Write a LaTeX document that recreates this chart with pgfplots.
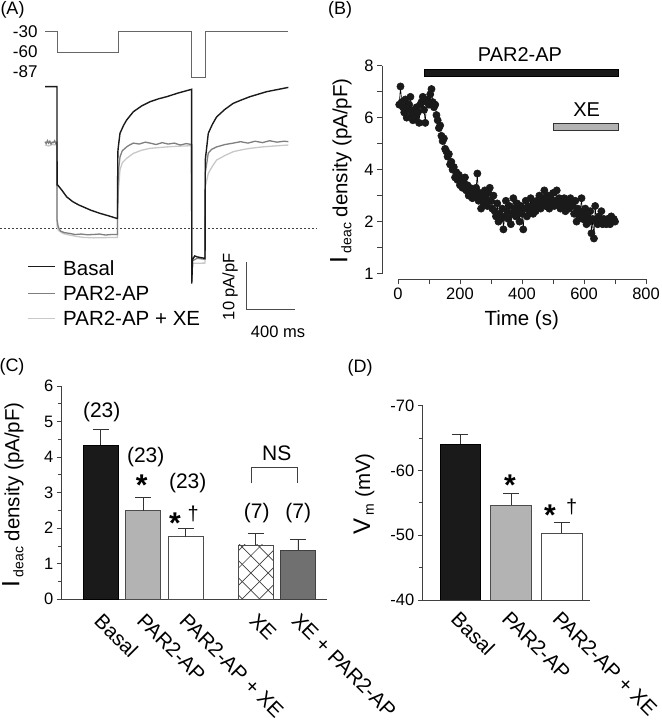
\documentclass[border=0pt]{standalone}
\usepackage{pgfplots}
\pgfplotsset{compat=1.18}
\usepackage{fontspec}
\setmainfont{Liberation Sans}
\usetikzlibrary{patterns}
\pgfdeclarepatternformonly{bigcross}{\pgfpoint{-1bp}{-1bp}}{\pgfpoint{18.3bp}{18.3bp}}{\pgfpoint{17.3bp}{17.3bp}}{%
  \pgfsetlinewidth{0.7bp}%
  \pgfpathmoveto{\pgfpoint{0bp}{0bp}}\pgfpathlineto{\pgfpoint{17.3bp}{17.3bp}}%
  \pgfpathmoveto{\pgfpoint{0bp}{17.3bp}}\pgfpathlineto{\pgfpoint{17.3bp}{0bp}}%
  \pgfusepath{stroke}}
\definecolor{axc}{HTML}{404040}
\definecolor{basalc}{HTML}{1A1A1A}
\definecolor{parc}{HTML}{7F7F7F}
\definecolor{xec}{HTML}{C8C8C8}
\definecolor{barlg}{HTML}{B3B3B3}
\definecolor{bardg}{HTML}{707070}
\newcommand\lab{\fontsize{20.5bp}{22bp}\selectfont}
\newcommand\tck{\fontsize{16.5bp}{18bp}\selectfont}
\newcommand\ann{\fontsize{21bp}{22bp}\selectfont}
\newcommand\sigstar{\fontsize{30bp}{30bp}\selectfont\bfseries *}
\pgfplotsset{panel/.style={scale only axis, tick align=outside,
  /pgf/number format/assume math mode=true,
  ticklabel style={font=\tck, text=black},
  tick style={axc, line width=0.8bp},
  major tick length=5bp, minor tick length=3.5bp}}
\begin{document}
\begin{tikzpicture}[x=1bp,y=1bp]

% ---------------- Panel A ----------------
\begin{axis}[at={(0bp,380bp)}, anchor=south west, scale only axis, hide axis, clip=false,
  width=320bp, height=320bp, xmin=-372.6, xmax=2277, ymin=-23.45, ymax=43.76]
\addplot[color=black!60, line width=1bp] coordinates {(0,41.3) (100,41.3) (100,36.9) (607,36.9) (607,41.3) (1215,41.3) (1215,31.72) (1333,31.72) (1333,41.3) (2015,41.3)};
\addplot[color=black!75, line width=0.7bp, dash pattern=on 1.5bp off 2.5bp] coordinates {(-372,0) (2250,0)};
\addplot[color=xec, line width=1.3bp] coordinates {(0,17.5) (30,17.3) (60,17.6) (99,17.5) (100,0.5) (110,-0.4) (150,-1.1) (200,-1.4) (260,-1.7) (317,-1.9) (400,-2.0) (500,-1.95) (600,-1.9)
 (602,5.95) (621,12.25) (640,13.8) (676,14.7) (732,15.75) (800,16.4) (870,16.8) (1008,17.1) (1100,17.25) (1214,17.35)
 (1215,-10.5) (1222,-7.35) (1325,-7.3)
 (1327,8.74) (1352,11.55) (1385,13.0) (1421,14.35) (1490,15.3) (1559,16.1) (1630,16.5) (1697,16.8) (1800,17.1) (1900,17.3) (2015,17.5)};
\addplot[color=parc, line width=1.3bp] coordinates {(0,18.2) (10,17.8) (20,18.4) (30,17.9) (40,18.3) (50,17.7) (60,18.1) (70,18.0) (80,18.4) (90,17.8) (99,18.0)
 (100,1.74) (108,0.5) (115,0) (130,-0.6) (160,-0.9) (200,-1.05) (250,-1.3) (300,-1.2) (350,-1.35) (400,-1.3) (450,-1.2) (500,-1.4) (550,-1.3) (600,-1.3)
 (602,8.7) (610,12.5) (621,15.0) (640,16.3) (676,17.1) (700,17.5) (732,17.9) (780,17.7) (830,18.1) (870,17.9) (920,17.6) (970,18.0) (1020,17.7) (1070,17.9) (1120,17.5) (1170,17.8) (1214,17.6)
 (1215,-11) (1222,-6.8) (1260,-6.3) (1325,-6.5)
 (1327,11.6) (1352,15.8) (1380,16.6) (1421,17.1) (1490,17.6) (1559,17.9) (1620,18.2) (1680,17.9) (1740,18.3) (1800,18.0) (1860,18.4) (1920,18.1) (1980,18.3) (2015,18.2)};
\addplot[color=basalc, line width=1.4bp] coordinates {(0,29.75) (99,29.75) (100,9.1) (105,9.1) (140,8.0) (180,6.6) (230,5.6) (280,4.9) (317,4.5) (380,3.8) (455,3.15) (530,2.6) (593,2.1) (600,2.1)
 (603,16.0) (607,17.1) (621,19.96) (650,21.6) (676,22.75) (732,24.5) (800,25.7) (870,26.6) (940,27.2) (1008,27.65) (1100,28.4) (1214,29.2)
 (1215,-11.6) (1222,-6.5) (1240,-5.8) (1260,-6.0) (1300,-6.2) (1325,-6.3)
 (1327,14.35) (1352,19.96) (1385,21.8) (1421,23.4) (1490,25.0) (1559,26.26) (1630,27.0) (1697,27.65) (1835,28.7) (2015,29.6)};
\addplot[color=basalc, line width=1.4bp] coordinates {(-138,-8.07) (83,-8.07)};
\addplot[color=parc, line width=1.4bp] coordinates {(-138,-13.66) (83,-13.66)};
\addplot[color=xec, line width=1.4bp] coordinates {(-138,-18.9) (83,-18.9)};
\addplot[color=black!70, line width=0.9bp] coordinates {(1670,-7.0) (1670,-17.0) (2070,-17.0)};
\end{axis}
\node[font=\fontsize{18bp}{20bp}\selectfont] at (12.5,710) {(A)};
\node[anchor=east, font=\fontsize{17bp}{18bp}\selectfont] at (41,688.3) {-30};
\node[anchor=east, font=\fontsize{17bp}{18bp}\selectfont] at (41,668.3) {-60};
\node[anchor=east, font=\fontsize{17bp}{18bp}\selectfont] at (41,648.3) {-87};
\node[anchor=west, font=\lab, inner sep=0pt] at (63,451.7) {Basal};
\node[anchor=west, font=\lab, inner sep=0pt] at (63,426.7) {PAR2-AP};
\node[anchor=west, font=\lab, inner sep=0pt] at (63,401.7) {PAR2-AP + XE};
\node[rotate=90, font=\fontsize{16.5bp}{18bp}\selectfont] at (230,433.3) {10 pA/pF};
\node[font=\fontsize{16.5bp}{18bp}\selectfont] at (278,388.3) {400 ms};

% ---------------- Panel B ----------------
\begin{axis}[panel, at={(382bp,440.7bp)}, anchor=south west, clip=false,
  width=264bp, height=213.6bp, xmin=-51.6, xmax=800, ymin=-0.22, ymax=8,
  axis x line*=bottom, axis y line*=left, axis line style={draw=none},
  xtick={0,100,...,800}, xticklabels={0,,200,,400,,600,,800},
  ytick={0,1,...,8}, yticklabels={1,,2,,4,,6,,8}]
\draw[axc, line width=0.8bp] (axis cs:-51.6,0) -- (axis cs:-51.6,8);
\draw[axc, line width=0.8bp] (axis cs:0,-0.22) -- (axis cs:800,-0.22);
\addplot[fill=basalc, draw=black, line width=0.6bp] coordinates {(84,7.58) (712,7.58) (712,7.86) (84,7.86) (84,7.58)};
\addplot[fill=barlg, draw=black!80, line width=0.8bp] coordinates {(500,5.52) (712,5.52) (712,5.76) (500,5.76) (500,5.52)};
\addplot[color=black, line width=0.6bp, mark=*, mark size=3.6bp, mark options={fill=basalc, draw=basalc}] coordinates {
(4,6.5) (8,7.2) (12,6.6) (16,6.4) (20,6.2) (24,6.7) (28,6.0) (32,6.3) (36,6.5) (40,6.8) (44,6.1) (48,5.9) (52,6.3) (56,6.0) (60,6.4) (64,6.2) (68,5.8) (72,6.5) (76,6.6) (80,6.8) (84,6.3) (88,5.8) (92,6.6) (96,6.7) (100,6.5) (104,6.9) (108,7.1)
(112,6.6) (116,6.4) (120,6.5) (124,6.1) (128,5.9) (132,5.6) (136,5.7) (140,5.3) (144,5.1) (148,5.2) (152,4.8) (156,4.7) (160,4.5) (164,4.6) (168,4.2) (172,4.3) (176,4.0) (180,4.1) (184,3.7) (188,3.9) (192,3.6) (196,3.8) (200,3.4) (204,3.6) (208,3.3) (212,3.5) (216,3.7) (220,3.2) (224,3.4) (228,3.0) (232,3.3) (236,3.1) (240,2.9) (244,3.2) (248,3.0) (252,3.3)
(256,3.85) (260,2.8) (264,3.1) (268,2.5) (272,3.0) (276,2.7) (280,3.2) (284,2.9) (288,2.6) (292,3.1) (296,3.3) (300,2.8) (304,2.5) (308,3.0) (312,2.4) (316,2.2) (320,2.7) (324,2.0) (328,2.3) (332,2.1) (336,2.5) (340,1.7) (344,2.2) (348,2.8) (352,2.4) (356,2.1) (360,2.6) (364,1.9) (368,2.3) (372,2.9) (376,2.5) (380,2.2) (384,2.7) (388,2.4) (392,2.0) (396,2.6) (400,2.3) (404,1.7) (408,2.5) (412,2.8) (416,2.2) (420,2.6) (424,2.4) (428,2.9) (432,2.5) (436,2.3) (440,2.7) (444,2.4) (448,2.8) (452,2.6) (456,3.0) (460,2.5) (464,2.7) (468,2.9)
(472,3.2) (476,2.6) (480,2.8) (484,3.0) (488,2.5) (492,2.9) (496,2.7) (500,3.1) (504,2.6) (508,2.8) (512,3.2) (516,2.7) (520,2.9) (524,2.5) (528,2.8) (532,2.6) (536,2.9) (540,2.4) (544,2.7) (548,2.8) (552,2.5) (556,2.9) (560,2.6)
(564,2.7) (568,2.3) (572,2.8) (576,2.0) (580,2.5) (584,2.2) (588,2.4) (592,2.9) (596,2.1) (600,2.3) (604,2.5) (608,1.9) (612,2.2) (616,2.0) (620,2.4) (624,1.55) (628,2.1) (632,1.35) (636,2.6) (640,2.0) (644,1.9) (648,2.2) (652,2.0) (656,2.4) (660,1.9) (664,2.1) (668,2.0) (672,1.9) (676,2.1) (680,2.0) (684,1.9) (688,2.2) (692,2.0) (696,2.1) (700,2.0)};
\end{axis}
\node[font=\fontsize{18bp}{20bp}\selectfont] at (340,710) {(B)};
\node[font=\fontsize{20bp}{22bp}\selectfont] at (520,665) {PAR2-AP};
\node[font=\fontsize{20bp}{22bp}\selectfont] at (586.7,610) {XE};
\node[font=\lab] at (521.7,400) {Time (s)};
\node[rotate=90, font=\lab] at (341,549) {{\fontsize{25bp}{25bp}\selectfont I}\,\raisebox{-0.35ex}{\fontsize{14bp}{14bp}\selectfont deac} density (pA/pF)};

% ---------------- Panel C ----------------
\begin{axis}[panel, at={(61.7bp,120.7bp)}, anchor=south west, clip=false,
  width=265bp, height=213.3bp, xmin=-0.922, xmax=5.328, ymin=0, ymax=6,
  ybar, bar width=35bp,
  axis x line*=bottom, axis y line*=left, axis line style={-, axc, line width=0.8bp},
  ytick={0,1,...,6}, minor ytick={0.5,1.5,...,5.5},
  xtick={0,1,2,3.65,4.65}, xticklabels={Basal,PAR2-AP,PAR2-AP + XE,XE,XE + PAR2-AP},
  x tick style={draw=none},
  xticklabel style={rotate=-45, anchor=north west, font=\lab, xshift=4bp},
  error bars/y dir=plus, error bars/y explicit,
  error bars/error bar style={line width=0.8bp, black!80},
  error bars/error mark options={line width=0.8bp, black!80, mark size=8bp, rotate=90}]
\addplot[bar shift=0pt, fill=basalc, draw=black, line width=0.8bp] coordinates {(0,4.34) +- (0,0.44)};
\addplot[bar shift=0pt, fill=barlg, draw=black!70, line width=0.8bp] coordinates {(1,2.49) +- (0,0.38)};
\addplot[bar shift=0pt, fill=white, draw=black!70, line width=0.8bp] coordinates {(2,1.76) +- (0,0.23)};
\addplot[bar shift=0pt, fill=white, draw=black!70, line width=0.8bp, postaction={pattern=bigcross, pattern color=black!75}] coordinates {(3.65,1.53) +- (0,0.32)};
\addplot[bar shift=0pt, fill=bardg, draw=black!75, line width=0.8bp] coordinates {(4.65,1.38) +- (0,0.31)};
\end{axis}
\node[font=\fontsize{18bp}{20bp}\selectfont] at (12,353) {(C)};
\node[rotate=90, font=\lab] at (13,225) {{\fontsize{25bp}{25bp}\selectfont I}\,\raisebox{-0.35ex}{\fontsize{14bp}{14bp}\selectfont deac} density (pA/pF)};
\node[font=\ann] at (101.7,308.3) {(23)};
\node[font=\ann] at (145.7,263.3) {(23)};
\node[font=\ann] at (187.7,236.7) {(23)};
\node[font=\ann] at (256.7,206.7) {(7)};
\node[font=\ann] at (298.3,206.7) {(7)};
\node[font=\ann] at (276.7,266.7) {NS};
\draw[axc, line width=0.8bp] (251.7,236.7) -- (251.7,252.7) -- (297.7,252.7) -- (297.7,236.7);
\node[anchor=base, inner sep=0pt] at (141.7,224) {\sigstar};
\node[anchor=base, inner sep=0pt] at (175,186) {\sigstar};
\node[anchor=base, inner sep=0pt, font=\fontsize{20bp}{20bp}\selectfont] at (193.3,199.4) {†};

% ---------------- Panel D ----------------
\begin{axis}[panel, at={(422.7bp,120bp)}, anchor=south west, clip mode=individual,
  width=167.3bp, height=194.3bp, xmin=-0.741, xmax=2.556, ymin=-70, ymax=-40,
  y dir=reverse, ybar, bar width=40.5bp,
  axis line style={draw=none}, ytick pos=left, xticklabel pos=lower,
  ytick={-70,-60,-50,-40}, minor ytick={-65,-55,-45},
  xtick={0,1,2}, xticklabels={Basal,PAR2-AP,PAR2-AP + XE},
  x tick style={draw=none},
  xticklabel style={rotate=-45, anchor=north west, font=\lab, xshift=0bp},
  error bars/y dir=minus, error bars/y explicit,
  error bars/error bar style={line width=0.8bp, black!80},
  error bars/error mark options={line width=0.8bp, black!80, mark size=8bp, rotate=90}]
\addplot[bar shift=0pt, fill=basalc, draw=black, line width=0.8bp] coordinates {(0,-64.07) +- (0,1.5)};
\addplot[bar shift=0pt, fill=barlg, draw=black!70, line width=0.8bp] coordinates {(1,-54.6) +- (0,1.9)};
\addplot[bar shift=0pt, fill=white, draw=black!70, line width=0.8bp] coordinates {(2,-50.3) +- (0,1.7)};
\draw[axc, line width=0.8bp] (axis cs:-0.741,-40) -- (axis cs:2.556,-40);
\draw[axc, line width=0.8bp] (axis cs:-0.741,-40) -- (axis cs:-0.741,-70);
\end{axis}
\node[font=\fontsize{18bp}{20bp}\selectfont] at (360,352) {(D)};
\node[rotate=90, font=\lab] at (364,226) {{\fontsize{24bp}{24bp}\selectfont V}\,\raisebox{-0.35ex}{\fontsize{14bp}{14bp}\selectfont m} (mV)};
\node[anchor=base, inner sep=0pt] at (510,224) {\sigstar};
\node[anchor=base, inner sep=0pt] at (550,194) {\sigstar};
\node[anchor=base, inner sep=0pt, font=\fontsize{20bp}{20bp}\selectfont] at (571.7,206) {†};
\pgfresetboundingbox
\useasboundingbox (0,0) rectangle (662,720);
\end{tikzpicture}
\end{document}
